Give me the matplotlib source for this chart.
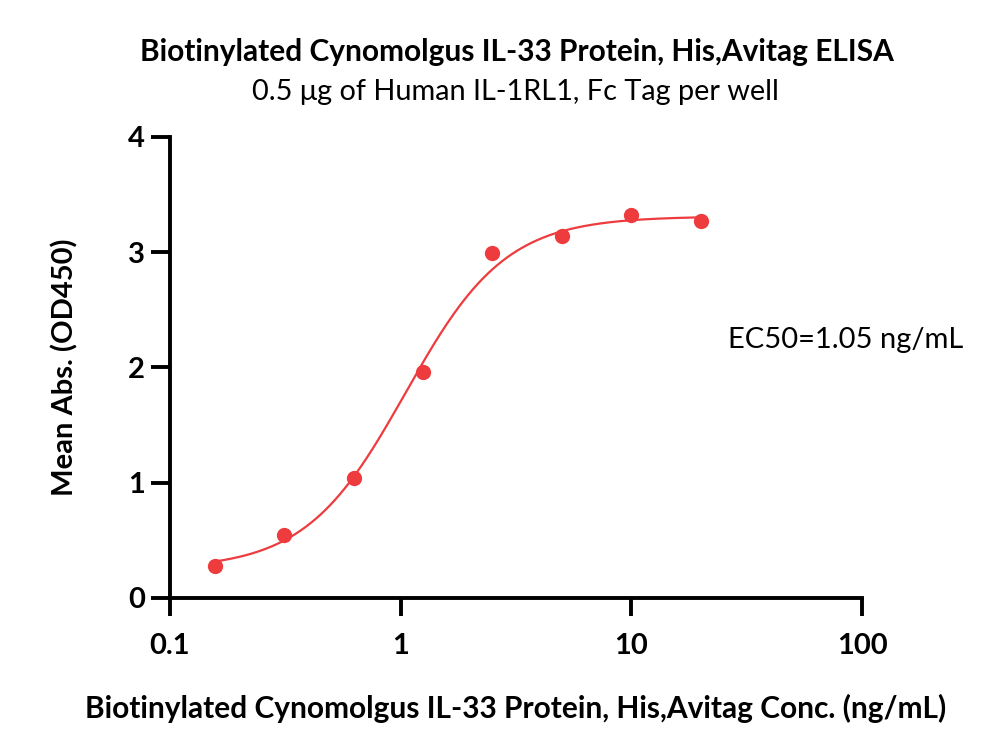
import numpy as np
import matplotlib.pyplot as plt

plt.rcParams['font.family'] = ['Lato', 'DejaVu Sans']

conc = [0.15625, 0.3125, 0.625, 1.25, 2.5, 5, 10, 20]
od450 = [0.28, 0.55, 1.04, 1.96, 2.99, 3.14, 3.32, 3.27]

# 4PL fit parameters
bottom, top, ec50, hill = 0.25, 3.31, 1.05, 2.0

red = '#ee3b3e'

fig = plt.figure(figsize=(10, 7.56), dpi=100)
ax = fig.add_axes([0.17, 0.209, 0.692, 0.61])

xs = np.logspace(np.log10(conc[0]), np.log10(conc[-1]), 300)
ys = bottom + (top - bottom) / (1 + (ec50 / xs) ** hill)
ax.plot(xs, ys, color=red, lw=1.6)
ax.plot(conc, od450, 'o', color=red, ms=11, mec='none')

ax.set_xscale('log')
ax.set_xlim(0.1, 100)
ax.set_ylim(0, 4)
ax.set_xticks([0.1, 1, 10, 100])
ax.set_xticklabels(['0.1', '1', '10', '100'])
ax.set_yticks([0, 1, 2, 3, 4])
ax.minorticks_off()

for s in ['top', 'right']:
    ax.spines[s].set_visible(False)
for s in ['left', 'bottom']:
    ax.spines[s].set_linewidth(2.8)
ax.tick_params(width=2.8, labelsize=21)
ax.tick_params(axis='x', length=13, pad=12)
ax.tick_params(axis='y', length=14, pad=4)
for lab in ax.get_xticklabels() + ax.get_yticklabels():
    lab.set_fontweight('bold')

ax.set_xlabel('Biotinylated Cynomolgus IL-33 Protein, His,Avitag Conc. (ng/mL)',
              fontsize=21.5, fontweight='bold', labelpad=25)
ax.set_ylabel('Mean Abs. (OD450)', fontsize=21, fontweight='bold', labelpad=36)

fig.text(0.517, 0.931, 'Biotinylated Cynomolgus IL-33 Protein, His,Avitag ELISA',
         ha='center', va='center', fontsize=21.5, fontweight='bold')
fig.text(0.515, 0.878, '0.5 μg of Human IL-1RL1, Fc Tag per well',
         ha='center', va='center', fontsize=20.8)
ax.text(0.728, 0.55, 'EC50=1.05 ng/mL', transform=fig.transFigure,
        ha='left', va='center', fontsize=21)

fig.savefig('out.png', dpi=100)
